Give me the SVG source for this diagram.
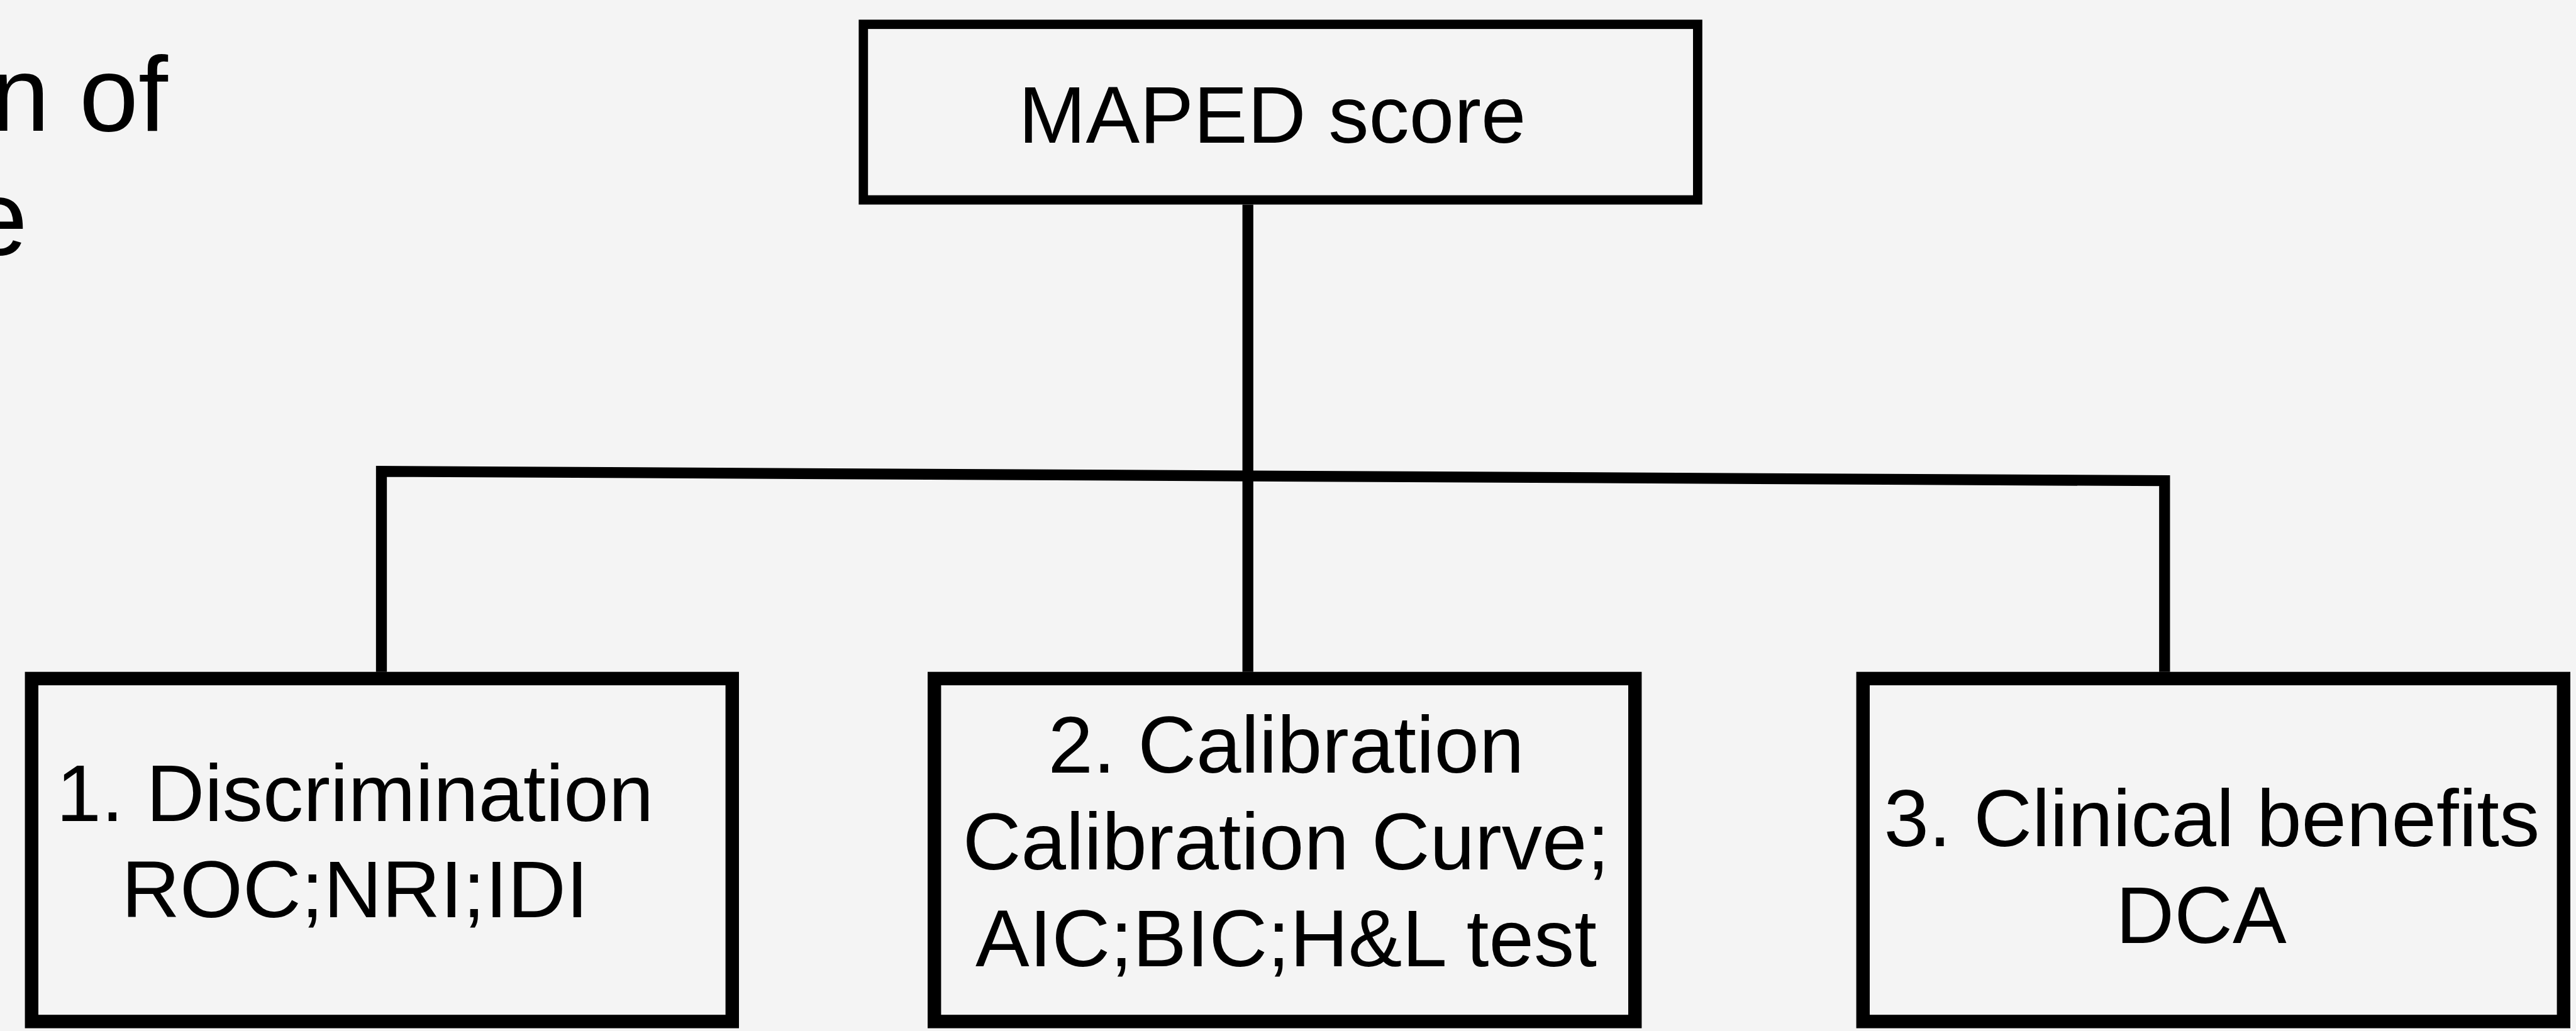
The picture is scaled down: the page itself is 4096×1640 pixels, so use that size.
<svg xmlns="http://www.w3.org/2000/svg" width="4096" height="1640" viewBox="0 0 4096 1640">
<style>
.bg{fill:#f4f4f4}
.box{fill:#f4f4f4;stroke:#000}
.top{stroke-width:14.8}
.sub{stroke-width:21.4}
.t{font-family:"Liberation Sans",Arial,sans-serif;fill:#000}
.m{font-size:128.5px;text-anchor:middle}
.side{font-size:169px;text-anchor:end}
.conn{fill:none;stroke:#000;stroke-width:17.3;stroke-linejoin:miter;stroke-linecap:butt}
</style>
<rect class="bg" x="0" y="0" width="4096" height="1640"/>
<g id="title-fragment">
<text class="t side" x="267" y="207.6">n of</text>
<text class="t side" x="43.7" y="405.4">e</text>
</g>
<g id="connectors">
<path class="conn" d="M1984.2,325.5 V1068.7"/>
<path class="conn" d="M606.5,1068.7 V749.8 L3441.8,764.7 V1068.7"/>
</g>
<g id="maped">
<rect class="box top" x="1372.8" y="38.7" width="1326.6" height="279.3"/>
<text class="t m" x="2023" y="226.6">MAPED score</text>
</g>
<g id="discrimination">
<rect class="box sub" x="50.3" y="1079.4" width="1114" height="545.5"/>
<text class="t m" x="564.4" y="1306">1. Discrimination</text>
<text class="t m" x="564.4" y="1458.5">ROC;NRI;IDI</text>
</g>
<g id="calibration">
<rect class="box sub" x="1485.7" y="1079.4" width="1114" height="545.5"/>
<text class="t m" x="2045" y="1228.6">2. Calibration</text>
<text class="t m" x="2045" y="1382.7">Calibration Curve;</text>
<text class="t m" x="2045" y="1536.8">AIC;BIC;H&amp;L test</text>
</g>
<g id="clinical">
<rect class="box sub" x="2962.3" y="1079.4" width="1114" height="545.5"/>
<text class="t m" x="3516.8" y="1346.4">3. Clinical benefits</text>
<text class="t m" x="3500" y="1499.7">DCA</text>
</g>
</svg>
